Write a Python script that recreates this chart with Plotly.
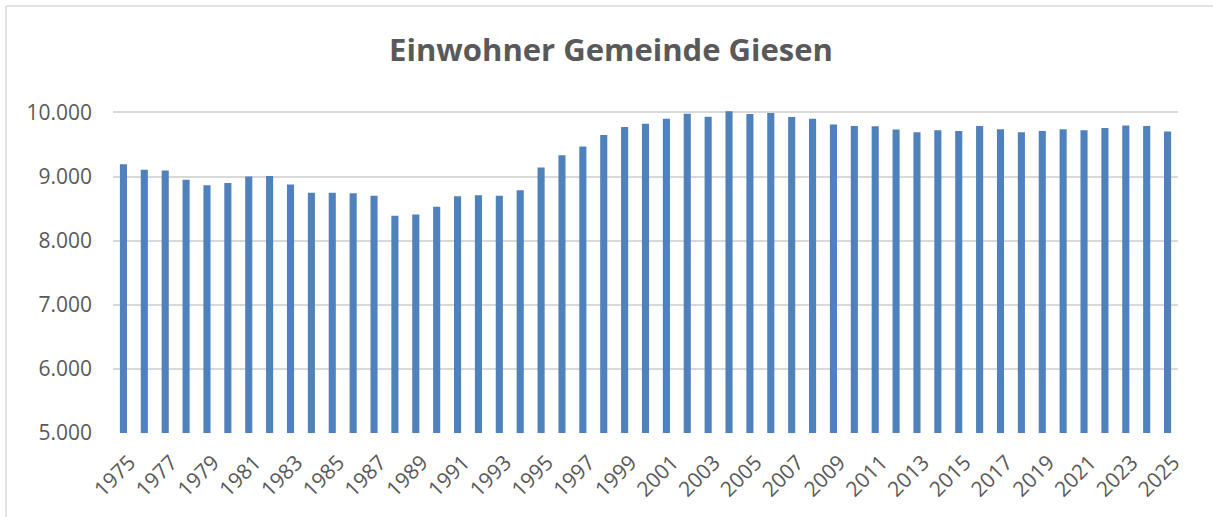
import plotly.graph_objects as go

years = list(range(1975, 2026))
einwohner = [
    9192, 9104, 9093, 8948, 8865, 8901, 9000, 9010, 8875, 8746,
    8746, 8740, 8699, 8388, 8408, 8528, 8694, 8709, 8699, 8787,
    9140, 9332, 9467, 9649, 9773, 9825, 9903, 9981, 9934, 10017,
    9976, 9991, 9929, 9903, 9810, 9789, 9784, 9732, 9690, 9721,
    9711, 9789, 9737, 9690, 9711, 9737, 9721, 9758, 9794, 9789,
    9701,
]
tick_years = [str(y) for y in years if (y - 1975) % 2 == 0]

FONT = "Open Sans"
GREY = "#595959"

W, H = 1213, 517
L, R, T, B = 113, 35, 106, 84
PW, PH = W - L - R, H - T - B

fig = go.Figure(
    go.Bar(
        x=[str(y) for y in years],
        y=einwohner,
        marker=dict(color="#4f81bd", line=dict(width=0)),
        hoverinfo="x+y",
    )
)

fig.update_layout(
    width=W,
    height=H,
    paper_bgcolor="white",
    plot_bgcolor="white",
    separators=",.",
    bargap=0.66,
    showlegend=False,
    margin=dict(l=L, r=R, t=T, b=B),
    title=dict(
        text="<b>Einwohner Gemeinde Giesen</b>",
        x=611 / W,
        xanchor="center",
        y=1 - 50 / H,
        yanchor="middle",
        font=dict(family=FONT, size=31, color=GREY),
    ),
    font=dict(family=FONT, color=GREY),
    xaxis=dict(
        type="category",
        tickmode="array",
        tickvals=tick_years,
        ticktext=tick_years,
        tickangle=-45,
        tickfont=dict(family=FONT, size=21, color=GREY),
        showgrid=False,
        showline=False,
        ticks="",
        ticklabelstandoff=12,
        ticklabelshift=6,
    ),
    yaxis=dict(
        range=[5000, 10100],
        tickvals=[5000, 6000, 7000, 8000, 9000, 10000],
        tickformat=",d",
        tickfont=dict(family=FONT, size=21, color=GREY),
        showgrid=True,
        gridcolor="#d9d9d9",
        gridwidth=1.5,
        zeroline=False,
        showline=False,
        ticklabelstandoff=20,
    ),
    shapes=[
        dict(type="line", xref="paper", yref="paper",
             x0=(6 - L) / PW, x1=(W - L) / PW, y0=1 + (T - 6) / PH, y1=1 + (T - 6) / PH,
             line=dict(color="#d9d9d9", width=1.5)),
        dict(type="line", xref="paper", yref="paper",
             x0=(6 - L) / PW, x1=(6 - L) / PW, y0=-B / PH, y1=1 + (T - 6) / PH,
             line=dict(color="#d9d9d9", width=1.5)),
    ],
)

fig.write_html(
    "out.html",
    config={"displayModeBar": False},
    post_script="document.body.style.margin='0';",
)
